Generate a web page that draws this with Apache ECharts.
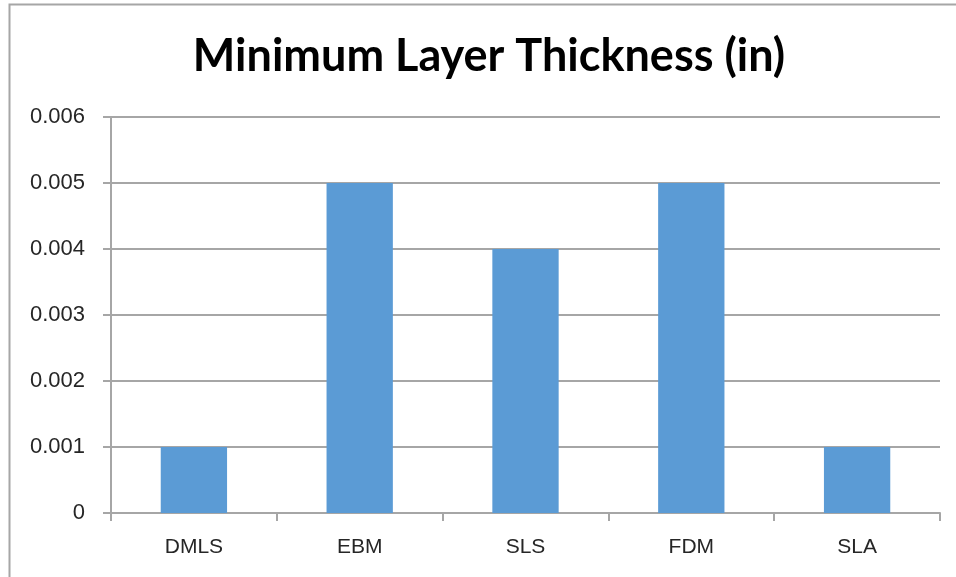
<!DOCTYPE html>
<html>
<head>
<meta charset="utf-8">
<script src="https://cdn.jsdelivr.net/npm/echarts@6/dist/echarts.min.js"></script>
<style>
  html, body { margin: 0; padding: 0; background: #fff; }
  #chart { width: 956px; height: 577px; }
</style>
</head>
<body>
<div id="chart"></div>
<script>
// Minimum layer thickness per additive manufacturing process, in inches
const processes = ['DMLS', 'EBM', 'SLS', 'FDM', 'SLA'];
const thickness = [0.001, 0.005, 0.004, 0.005, 0.001];
const yTicks = { min: 0, max: 0.006, step: 0.001 };

const axisGray = '#a6a6a6';
const labelColor = '#262626';

const chart = echarts.init(document.getElementById('chart'), null, { renderer: 'canvas' });

chart.setOption({
  animation: false,
  backgroundColor: '#ffffff',
  title: {
    text: 'Minimum Layer Thickness (in)',
    left: 484,
    textAlign: 'center',
    top: 29,
    textStyle: {
      fontFamily: 'Lato',
      fontWeight: 'bold',
      fontSize: 45,
      color: '#000000'
    }
  },
  graphic: [{
    type: 'rect',
    silent: true,
    z: -1,
    shape: { x: 9.5, y: 4.5, width: 1000, height: 1000 },
    style: { fill: 'none', stroke: axisGray, lineWidth: 2 }
  }],
  grid: { left: 111, right: 16, top: 117, bottom: 64, containLabel: false },
  xAxis: {
    type: 'category',
    data: processes,
    boundaryGap: true,
    axisLine: { show: true, lineStyle: { color: axisGray, width: 2 } },
    axisTick: { show: true, length: 8, alignWithLabel: false, lineStyle: { color: axisGray, width: 2 } },
    axisLabel: {
      margin: 24,
      fontFamily: 'Liberation Sans',
      fontSize: 21,
      color: labelColor
    }
  },
  yAxis: {
    type: 'value',
    min: yTicks.min,
    max: yTicks.max,
    interval: yTicks.step,
    axisLine: { show: true, lineStyle: { color: axisGray, width: 2 } },
    axisTick: { show: true, length: 8, lineStyle: { color: axisGray, width: 2 } },
    splitLine: { show: true, lineStyle: { color: axisGray, width: 2 } },
    axisLabel: {
      margin: 26,
      fontFamily: 'Liberation Sans',
      fontSize: 22,
      color: labelColor,
      formatter: v => (v === 0 ? '0' : v.toFixed(3))
    }
  },
  series: [{
    type: 'bar',
    data: thickness,
    barWidth: '40%',
    itemStyle: { color: '#5b9bd5' }
  }]
});
</script>
</body>
</html>
